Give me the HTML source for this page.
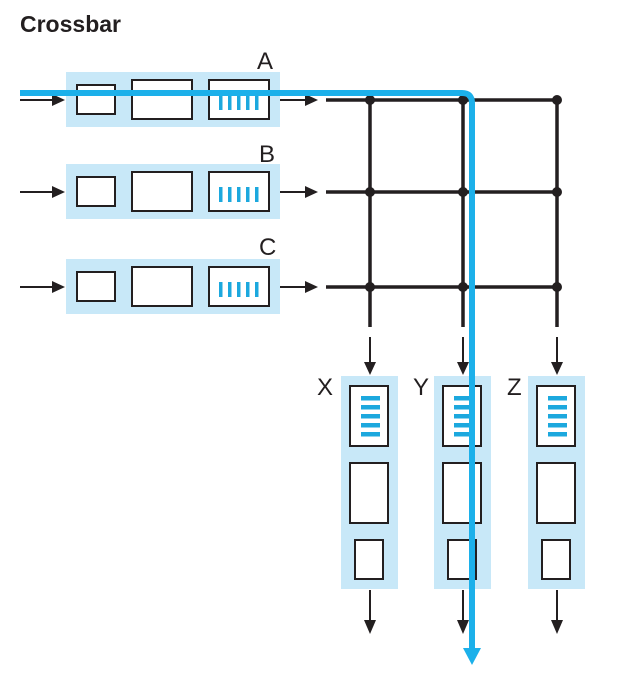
<!DOCTYPE html>
<html><head><style>body{margin:0;background:#fff}svg{display:block}</style></head><body>
<svg width="617" height="680" viewBox="0 0 617 680" xmlns="http://www.w3.org/2000/svg" font-family="Liberation Sans, sans-serif">
<text x="20" y="32" font-size="23" font-weight="bold" fill="#231f20">Crossbar</text>
<defs>
<g id="inrow">
<rect x="66" y="-28" width="214" height="55" fill="#c8e8f8"/>
<rect x="77" y="-15" width="38" height="29" fill="#fff" stroke="#231f20" stroke-width="2"/>
<rect x="132" y="-20" width="60" height="39" fill="#fff" stroke="#231f20" stroke-width="2"/>
<rect x="209" y="-20" width="60" height="39" fill="#fff" stroke="#231f20" stroke-width="2"/>
<g fill="#1ca8de"><rect x="219" y="-5" width="3.5" height="15"/><rect x="228" y="-5" width="3.5" height="15"/><rect x="237" y="-5" width="3.5" height="15"/><rect x="246" y="-5" width="3.5" height="15"/><rect x="255" y="-5" width="3.5" height="15"/></g>
<line x1="20" y1="0" x2="55" y2="0" stroke="#231f20" stroke-width="2"/><path d="M52,-6 L65,0 L52,6z" fill="#231f20"/>
<line x1="280" y1="0" x2="308" y2="0" stroke="#231f20" stroke-width="2"/><path d="M305,-6 L318,0 L305,6z" fill="#231f20"/>
</g>
<g id="outcol">
<rect x="-29" y="376" width="57" height="213" fill="#c8e8f8"/>
<rect x="-20" y="386" width="38" height="60" fill="#fff" stroke="#231f20" stroke-width="2"/>
<rect x="-20" y="463" width="38" height="60" fill="#fff" stroke="#231f20" stroke-width="2"/>
<rect x="-15" y="540" width="28" height="39" fill="#fff" stroke="#231f20" stroke-width="2"/>
<g fill="#1ca8de"><rect x="-9" y="396" width="19" height="4.5"/><rect x="-9" y="405" width="19" height="4.5"/><rect x="-9" y="414" width="19" height="4.5"/><rect x="-9" y="423" width="19" height="4.5"/><rect x="-9" y="432" width="19" height="4.5"/></g>
<line x1="0" y1="337" x2="0" y2="364" stroke="#231f20" stroke-width="2"/><path d="M-6,362 L0,375 L6,362z" fill="#231f20"/>
<line x1="0" y1="590" x2="0" y2="622" stroke="#231f20" stroke-width="2"/><path d="M-6,620 L0,634 L6,620z" fill="#231f20"/>
</g>
</defs>
<use href="#inrow" y="100"/><use href="#inrow" y="192"/><use href="#inrow" y="287"/>
<use href="#outcol" x="370"/><use href="#outcol" x="463"/><use href="#outcol" x="557"/>
<g stroke="#231f20" stroke-width="3.5">
<line x1="326" y1="100" x2="557" y2="100"/><line x1="326" y1="192" x2="557" y2="192"/><line x1="326" y1="287" x2="557" y2="287"/>
<line x1="370" y1="100" x2="370" y2="327"/><line x1="463" y1="100" x2="463" y2="327"/><line x1="557" y1="100" x2="557" y2="327"/>
</g>
<g fill="#231f20">
<circle cx="370" cy="100" r="5"/><circle cx="463" cy="100" r="5"/><circle cx="557" cy="100" r="5"/>
<circle cx="370" cy="192" r="5"/><circle cx="463" cy="192" r="5"/><circle cx="557" cy="192" r="5"/>
<circle cx="370" cy="287" r="5"/><circle cx="463" cy="287" r="5"/><circle cx="557" cy="287" r="5"/>
</g>
<g font-size="24" fill="#231f20">
<text x="257" y="69">A</text><text x="259" y="162">B</text><text x="259" y="255">C</text>
<text x="317" y="395">X</text><text x="413" y="395">Y</text><text x="507" y="395">Z</text>
</g>
<path d="M20,93 H462 Q472,93 472,103 V650" fill="none" stroke="#1cb0ea" stroke-width="6"/>
<path d="M463,648 L472,665 L481,648z" fill="#1cb0ea"/>
</svg>
</body></html>
